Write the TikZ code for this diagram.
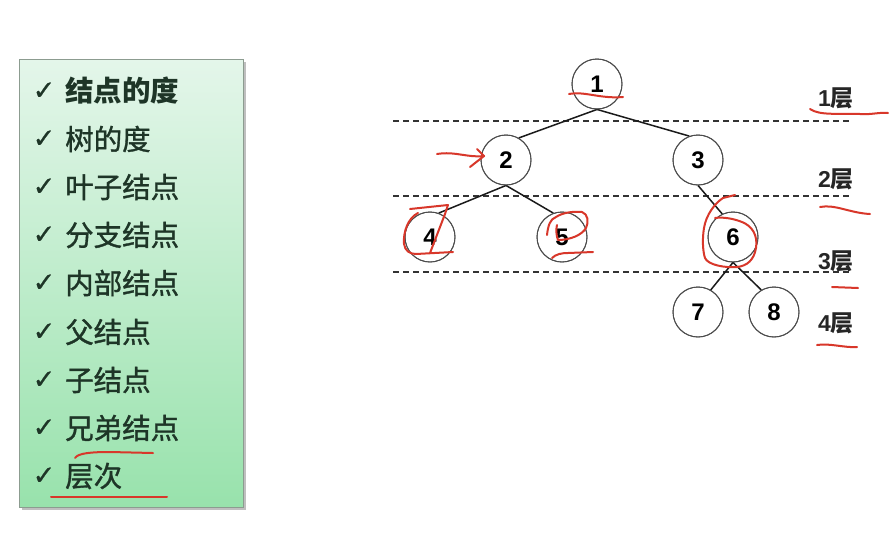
\documentclass[tikz,border=0pt]{standalone}
\usepackage{fontspec}
\setmainfont{Liberation Sans}
\newfontfamily\cjk{Noto Sans CJK SC}
\newfontfamily\cjkm{Noto Sans CJK SC}[FakeBold=1.2]
\newfontfamily\sym{DejaVu Sans}[FakeBold=0.6]
\definecolor{txt}{HTML}{1E3527}
\definecolor{boxtop}{HTML}{E4F6EA}
\definecolor{boxbot}{HTML}{98E2AC}
\definecolor{boxline}{HTML}{8C9C90}
\definecolor{pen}{HTML}{D8372A}
\definecolor{edge}{HTML}{1A1A1A}
\tikzset{
  tnode/.style={circle, draw=black!70, line width=0.9pt, minimum size=50pt, inner sep=0pt, fill=white, font=\fontsize{24}{24}\selectfont\bfseries},
  tedge/.style={line width=1.5pt, draw=edge},
  level/.style={dashed, dash pattern=on 6pt off 4pt, line width=1.4pt, draw=black!80},
  lab/.style={font=\fontsize{23}{23}\selectfont\bfseries, text=black!85, inner sep=0pt},
  item/.style={anchor=west, inner sep=0pt, text=txt, font=\cjkm\fontsize{28.5}{28.5}\selectfont},
  tick/.style={inner sep=0pt, text=txt, font=\sym\fontsize{27}{27}\selectfont},
  redpen/.style={draw=pen, line width=2pt, line cap=round, line join=round}
}
\begin{document}
\begin{tikzpicture}[x=1pt,y=-1pt]
\useasboundingbox (0,0) rectangle (896,536);
\fill[white] (0,0) rectangle (896,536);
% left panel
\fill[black!25] (22,62) rectangle (246,510);
\shade[top color=boxtop, bottom color=boxbot, draw=boxline, line width=0.8pt] (19,59) rectangle (243,507);
\foreach \y/\t [count=\i] in {91/{\cjk\bfseries 结点的度},139/树的度,187/叶子结点,235/分支结点,283/内部结点,332/父结点,380/子结点,428/兄弟结点,476/层次}{
  \node[tick] (k\i) at (44,\y) {✓};
  \node[item] (t\i) at (65,\y) {\t};
}
% dashed level lines
\coordinate (l1a) at (393,121); \coordinate (l1b) at (851,121);
\coordinate (l2a) at (393,196); \coordinate (l2b) at (851,196);
\coordinate (l3a) at (393,272); \coordinate (l3b) at (851,272);
\draw[level] (l1a) -- (l1b);
\draw[level] (l2a) -- (l2b);
\draw[level] (l3a) -- (l3b);
% tree
\node[tnode] (n1) at (597,84) {1};
\node[tnode] (n2) at (506,160) {2};
\node[tnode] (n3) at (698,160) {3};
\node[tnode] (n4) at (430,237) {4};
\node[tnode] (n5) at (562,237) {5};
\node[tnode] (n6) at (733,237) {6};
\node[tnode] (n7) at (698,312) {7};
\node[tnode] (n8) at (774,312) {8};
\draw[tedge] (n1.south) -- (n2.60);
\draw[tedge] (n1.south) -- (n3.110);
\draw[tedge] (n2.south) -- (n4.70);
\draw[tedge] (n2.south) -- (n5.110);
\draw[tedge] (n3.south) -- (n6.115);
\draw[tedge] (n6.south) -- (n7.60);
\draw[tedge] (n6.south) -- (n8.120);
\foreach \n in {n1,n2,n3,n4,n5,n6,n7,n8}{\draw[black!70, line width=0.9pt] (\n) circle (25pt);}
% layer labels
\node[lab] (L1) at (836,98) {1{\cjk 层}};
\node[lab] (L2) at (836,179) {2{\cjk 层}};
\node[lab] (L3) at (836,261) {3{\cjk 层}};
\node[lab] (L4) at (836,323) {4{\cjk 层}};
% red annotations
\draw[redpen] (569,94) .. controls (585,91) and (600,99) .. (623,97);
\draw[redpen] (810,109) .. controls (820,116) and (840,113) .. (860,114) .. controls (870,115) and (880,112) .. (888,113);
\draw[redpen] (437,154) .. controls (455,151) and (468,158) .. (484,156);
\draw[redpen] (477,149) -- (484,156) -- (470,167);
\draw[redpen] (820,207) .. controls (835,204) and (850,213) .. (870,214);
\draw[redpen] (832,287) -- (858,288);
\draw[redpen] (817,345) .. controls (830,343) and (845,348) .. (857,347);
% around 4
\draw[redpen] (418,213) .. controls (408,218) and (403,232) .. (404,244) .. controls (405,251) and (410,254) .. (416,254) -- (453,252);
\draw[redpen] (410,209) -- (448,205) -- (445,214) -- (430,253);
% around 5
\draw[redpen] (547,235) .. controls (548,226) and (550,219) .. (556,217) .. controls (562,213) and (572,211) .. (582,212) .. controls (588,214) and (589,222) .. (586,228) .. controls (582,235) and (570,240) .. (558,240) .. controls (556,235) and (556,229) .. (557,225);
\draw[redpen] (552,258) .. controls (556,254) and (562,253) .. (568,253) -- (593,252);
% around 6
\draw[redpen] (723,198) -- (735,195);
\draw[redpen] (723,198) .. controls (715,203) and (706,215) .. (704,228) .. controls (702,240) and (703,252) .. (705,258) .. controls (708,265) and (725,268) .. (737,267) .. controls (747,266) and (754,260) .. (756,248) .. controls (758,235) and (752,226) .. (742,222) .. controls (732,218) and (722,217) .. (715,218);
% left panel underlines
\draw[redpen] (75,458) .. controls (78,453) and (92,452) .. (110,452) -- (153,453);
\draw[redpen] (51,497) -- (167,497);
\end{tikzpicture}
\end{document}
